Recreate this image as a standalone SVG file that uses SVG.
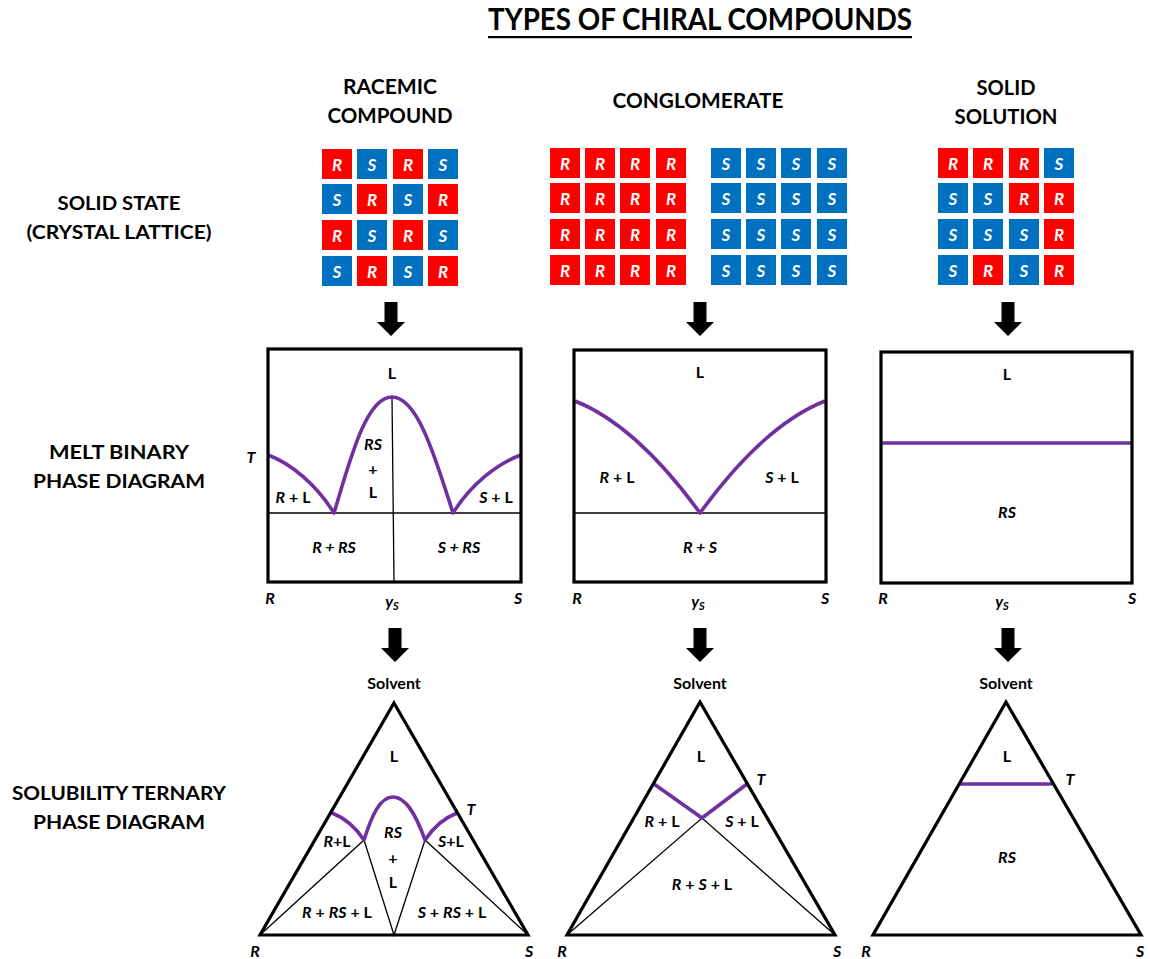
<svg xmlns="http://www.w3.org/2000/svg" xmlns:xlink="http://www.w3.org/1999/xlink" width="1150" height="959" viewBox="0 0 1150 959">
  <style>
    text { font-family: Lato, "Open Sans", "Liberation Sans", sans-serif; font-weight: bold; fill: #000; }
    .title { font-size: 30px; text-anchor: middle; }
    .head { font-size: 21px; text-anchor: middle; }
    .row { font-size: 18.5px; text-anchor: middle; }
    .cell { font-size: 17px; font-style: italic; fill: #fff; text-anchor: middle; }
    .lbl { font-size: 16px; text-anchor: middle; }
    .it { font-style: italic; }
    .sub { font-size: 11px; font-style: italic; }
    .frame { fill: none; stroke: #000; stroke-width: 3.2; }
    .thin { fill: none; stroke: #000; stroke-width: 1.3; }
    .curve { fill: none; stroke: #7030A0; stroke-width: 3.6; stroke-linejoin: round; }
    .arrow { fill: #000; }
  </style>
  <defs>
    <g id="cellR"><rect width="30" height="30" fill="#FF0000"/><text x="15" y="21.5" class="cell">R</text></g>
    <g id="cellS"><rect width="30" height="30" fill="#0070C0"/><text x="15" y="21.5" class="cell">S</text></g>
    <path id="arrow" class="arrow" d="M-6.5,0 H6.5 V20 H14 L0,34 L-14,20 H-6.5 Z"/>
  </defs>

  <!-- heading -->
  <g id="title">
    <text x="700" y="30" class="title" textLength="424" lengthAdjust="spacingAndGlyphs">TYPES OF CHIRAL COMPOUNDS</text>
    <rect x="488" y="36" width="424" height="2.2" fill="#000"/>
  </g>

  <!-- column headings -->
  <g id="head-racemic">
    <text x="390" y="94" class="head" textLength="94" lengthAdjust="spacingAndGlyphs">RACEMIC</text>
    <text x="390" y="123" class="head" textLength="125" lengthAdjust="spacingAndGlyphs">COMPOUND</text>
  </g>
  <g id="head-conglomerate">
    <text x="698" y="108" class="head" textLength="171" lengthAdjust="spacingAndGlyphs">CONGLOMERATE</text>
  </g>
  <g id="head-solid">
    <text x="1006" y="95" class="head" textLength="59" lengthAdjust="spacingAndGlyphs">SOLID</text>
    <text x="1006" y="124" class="head" textLength="103" lengthAdjust="spacingAndGlyphs">SOLUTION</text>
  </g>

  <!-- row headings -->
  <g id="row-solid">
    <text x="119" y="210" class="row" textLength="123" lengthAdjust="spacingAndGlyphs">SOLID STATE</text>
    <text x="119" y="239" class="row" textLength="185" lengthAdjust="spacingAndGlyphs">(CRYSTAL LATTICE)</text>
  </g>
  <g id="row-melt">
    <text x="119" y="459" class="row" textLength="140" lengthAdjust="spacingAndGlyphs">MELT BINARY</text>
    <text x="119" y="488" class="row" textLength="172" lengthAdjust="spacingAndGlyphs">PHASE DIAGRAM</text>
  </g>
  <g id="row-ternary">
    <text x="119" y="800" class="row" textLength="214" lengthAdjust="spacingAndGlyphs">SOLUBILITY TERNARY</text>
    <text x="119" y="829" class="row" textLength="172" lengthAdjust="spacingAndGlyphs">PHASE DIAGRAM</text>
  </g>

  <!-- crystal lattices -->
  <g id="lattice-racemic">
    <use xlink:href="#cellR" x="322" y="149"/><use xlink:href="#cellS" x="357" y="149"/><use xlink:href="#cellR" x="393" y="149"/><use xlink:href="#cellS" x="428" y="149"/>
    <use xlink:href="#cellS" x="322" y="184"/><use xlink:href="#cellR" x="357" y="184"/><use xlink:href="#cellS" x="393" y="184"/><use xlink:href="#cellR" x="428" y="184"/>
    <use xlink:href="#cellR" x="322" y="220"/><use xlink:href="#cellS" x="357" y="220"/><use xlink:href="#cellR" x="393" y="220"/><use xlink:href="#cellS" x="428" y="220"/>
    <use xlink:href="#cellS" x="322" y="256"/><use xlink:href="#cellR" x="357" y="256"/><use xlink:href="#cellS" x="393" y="256"/><use xlink:href="#cellR" x="428" y="256"/>
  </g>
  <g id="lattice-conglomerate">
    <use xlink:href="#cellR" x="550" y="148"/><use xlink:href="#cellR" x="585" y="148"/><use xlink:href="#cellR" x="620" y="148"/><use xlink:href="#cellR" x="656" y="148"/>
    <use xlink:href="#cellR" x="550" y="183"/><use xlink:href="#cellR" x="585" y="183"/><use xlink:href="#cellR" x="620" y="183"/><use xlink:href="#cellR" x="656" y="183"/>
    <use xlink:href="#cellR" x="550" y="219"/><use xlink:href="#cellR" x="585" y="219"/><use xlink:href="#cellR" x="620" y="219"/><use xlink:href="#cellR" x="656" y="219"/>
    <use xlink:href="#cellR" x="550" y="255"/><use xlink:href="#cellR" x="585" y="255"/><use xlink:href="#cellR" x="620" y="255"/><use xlink:href="#cellR" x="656" y="255"/>
    <use xlink:href="#cellS" x="711" y="148"/><use xlink:href="#cellS" x="746" y="148"/><use xlink:href="#cellS" x="781" y="148"/><use xlink:href="#cellS" x="817" y="148"/>
    <use xlink:href="#cellS" x="711" y="183"/><use xlink:href="#cellS" x="746" y="183"/><use xlink:href="#cellS" x="781" y="183"/><use xlink:href="#cellS" x="817" y="183"/>
    <use xlink:href="#cellS" x="711" y="219"/><use xlink:href="#cellS" x="746" y="219"/><use xlink:href="#cellS" x="781" y="219"/><use xlink:href="#cellS" x="817" y="219"/>
    <use xlink:href="#cellS" x="711" y="255"/><use xlink:href="#cellS" x="746" y="255"/><use xlink:href="#cellS" x="781" y="255"/><use xlink:href="#cellS" x="817" y="255"/>
  </g>
  <g id="lattice-solid">
    <use xlink:href="#cellR" x="938" y="148"/><use xlink:href="#cellR" x="973" y="148"/><use xlink:href="#cellR" x="1009" y="148"/><use xlink:href="#cellS" x="1044" y="148"/>
    <use xlink:href="#cellS" x="938" y="183"/><use xlink:href="#cellS" x="973" y="183"/><use xlink:href="#cellR" x="1009" y="183"/><use xlink:href="#cellR" x="1044" y="183"/>
    <use xlink:href="#cellS" x="938" y="219"/><use xlink:href="#cellS" x="973" y="219"/><use xlink:href="#cellS" x="1009" y="219"/><use xlink:href="#cellR" x="1044" y="219"/>
    <use xlink:href="#cellS" x="938" y="255"/><use xlink:href="#cellR" x="973" y="255"/><use xlink:href="#cellS" x="1009" y="255"/><use xlink:href="#cellR" x="1044" y="255"/>
  </g>

  <!-- arrows between rows -->
  <g id="connectors">
    <use xlink:href="#arrow" x="391" y="302"/>
    <use xlink:href="#arrow" x="700" y="302"/>
    <use xlink:href="#arrow" x="1008" y="302"/>
    <use xlink:href="#arrow" x="395" y="628"/>
    <use xlink:href="#arrow" x="700" y="628"/>
    <use xlink:href="#arrow" x="1008" y="628"/>
  </g>

  <!-- melt binary phase diagram: racemic compound -->
  <g id="melt-racemic">
    <line x1="268" y1="513" x2="521" y2="513" class="thin"/>
    <line x1="392" y1="397" x2="394" y2="582" class="thin"/>
    <path class="curve" d="M268,455 C290,463 316,484 334,513 C350,460 366,397 392,397 C418,397 436,460 453,513 C471,484 498,463 521,455"/>
    <rect x="268" y="349" width="253" height="233" class="frame"/>
    <text x="392" y="379" class="lbl">L</text>
    <text x="373" y="450" class="lbl it">RS</text>
    <text x="373" y="475" class="lbl">+</text>
    <text x="373" y="498" class="lbl">L</text>
    <text x="293" y="503" class="lbl"><tspan class="it">R</tspan> + L</text>
    <text x="496" y="503" class="lbl"><tspan class="it">S</tspan> + L</text>
    <text x="334" y="553" class="lbl it">R + RS</text>
    <text x="459" y="553" class="lbl it">S + RS</text>
    <text x="251" y="463" class="lbl it">T</text>
    <text x="270" y="604" class="lbl it">R</text>
    <text x="392" y="607" class="lbl it">y<tspan class="sub" dy="3">S</tspan></text>
    <text x="518" y="604" class="lbl it">S</text>
  </g>

  <!-- melt binary phase diagram: conglomerate -->
  <g id="melt-conglomerate">
    <line x1="574" y1="513" x2="826" y2="513" class="thin"/>
    <path class="curve" d="M575,401 C618,418 660,458 700,513 C740,458 782,418 825,401"/>
    <rect x="574" y="350" width="252" height="232" class="frame"/>
    <text x="700" y="378" class="lbl">L</text>
    <text x="617" y="483" class="lbl"><tspan class="it">R</tspan> + L</text>
    <text x="782" y="483" class="lbl"><tspan class="it">S</tspan> + L</text>
    <text x="700" y="553" class="lbl it">R + S</text>
    <text x="577" y="604" class="lbl it">R</text>
    <text x="698" y="607" class="lbl it">y<tspan class="sub" dy="3">S</tspan></text>
    <text x="825" y="604" class="lbl it">S</text>
  </g>

  <!-- melt binary phase diagram: solid solution -->
  <g id="melt-solid">
    <line x1="881" y1="443" x2="1132" y2="443" class="curve"/>
    <rect x="881" y="352" width="251" height="231" class="frame"/>
    <text x="1007" y="380" class="lbl">L</text>
    <text x="1007" y="518" class="lbl it">RS</text>
    <text x="883" y="604" class="lbl it">R</text>
    <text x="1002" y="607" class="lbl it">y<tspan class="sub" dy="3">S</tspan></text>
    <text x="1132" y="604" class="lbl it">S</text>
  </g>

  <!-- solubility ternary phase diagram: racemic compound -->
  <g id="ternary-racemic">
    <path class="thin" d="M260,935 L364,840 L394,935 L425,840 L528,935"/>
    <path class="curve" d="M332,813 C345,818 356,828 364,840 C372,815 380,797 393,797 C406,797 416,815 425,840 C433,828 444,818 457,813"/>
    <path class="frame" stroke-linejoin="miter" d="M394,703 L528,935 L260,935 Z"/>
    <text x="394" y="689" class="lbl">Solvent</text>
    <text x="394" y="762" class="lbl">L</text>
    <text x="337" y="847" class="lbl"><tspan class="it">R</tspan>+L</text>
    <text x="393" y="838" class="lbl it">RS</text>
    <text x="393" y="864" class="lbl">+</text>
    <text x="393" y="888" class="lbl">L</text>
    <text x="451" y="847" class="lbl"><tspan class="it">S</tspan>+L</text>
    <text x="337" y="918" class="lbl"><tspan class="it">R</tspan> + <tspan class="it">RS</tspan> + L</text>
    <text x="452" y="918" class="lbl"><tspan class="it">S</tspan> + <tspan class="it">RS</tspan> + L</text>
    <text x="471" y="815" class="lbl it">T</text>
    <text x="255" y="957" class="lbl it">R</text>
    <text x="529" y="957" class="lbl it">S</text>
  </g>

  <!-- solubility ternary phase diagram: conglomerate -->
  <g id="ternary-conglomerate">
    <path class="thin" d="M567,935 L702,818 L835,935"/>
    <path class="curve" d="M654,784 L702,818 L747,784"/>
    <path class="frame" stroke-linejoin="miter" d="M700,702 L835,935 L567,935 Z"/>
    <text x="700" y="689" class="lbl">Solvent</text>
    <text x="701" y="762" class="lbl">L</text>
    <text x="662" y="827" class="lbl"><tspan class="it">R</tspan> + L</text>
    <text x="742" y="827" class="lbl"><tspan class="it">S</tspan> + L</text>
    <text x="702" y="890" class="lbl"><tspan class="it">R</tspan> + <tspan class="it">S</tspan> + L</text>
    <text x="761" y="785" class="lbl it">T</text>
    <text x="562" y="957" class="lbl it">R</text>
    <text x="837" y="957" class="lbl it">S</text>
  </g>

  <!-- solubility ternary phase diagram: solid solution -->
  <g id="ternary-solid">
    <line x1="960" y1="784" x2="1052" y2="784" class="curve"/>
    <path class="frame" stroke-linejoin="miter" d="M1006,702 L1141,935 L873,935 Z"/>
    <text x="1006" y="689" class="lbl">Solvent</text>
    <text x="1007" y="762" class="lbl">L</text>
    <text x="1007" y="863" class="lbl it">RS</text>
    <text x="1070" y="785" class="lbl it">T</text>
    <text x="866" y="957" class="lbl it">R</text>
    <text x="1140" y="957" class="lbl it">S</text>
  </g>
</svg>
